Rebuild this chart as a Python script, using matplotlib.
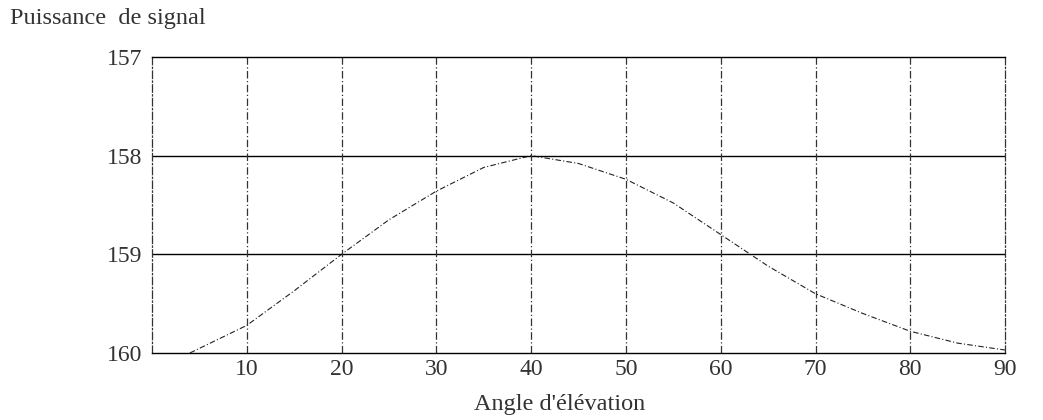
import numpy as np
import matplotlib.pyplot as plt

plt.switch_backend("Agg")
plt.rcParams["font.family"] = ["Liberation Serif", "DejaVu Serif"]

# values
angle = [4, 10, 15, 20, 25, 30, 35, 40, 45, 50, 55, 60, 65, 70, 75, 80, 85, 90]
power = [160.0, 159.72, 159.37, 159.0, 158.65, 158.36, 158.12, 158.0, 158.08,
         158.24, 158.48, 158.8, 159.12, 159.4, 159.6, 159.78, 159.9, 159.97]
xticks = [10, 20, 30, 40, 50, 60, 70, 80, 90]
yticks = [157, 158, 159, 160]

fig = plt.figure(figsize=(10.43, 4.2), dpi=100)
ax = fig.add_axes([0.1457, 0.1595, 0.818, 0.705])

ax.plot(angle, power, color="#222222", lw=0.8, ls=(0, (5, 2, 1, 2)))

ax.set_xlim(0, 90)
ax.set_ylim(160, 157)

for y in (158, 159):
    ax.axhline(y, color="black", lw=1.0)
for x in xticks[:-1]:
    ax.axvline(x, color="#333333", lw=0.9, ls=(0, (6, 2, 1, 2)))

for s in ("top", "bottom"):
    ax.spines[s].set_linewidth(1.0)
for s in ("left", "right"):
    ax.spines[s].set_linestyle((0, (6, 2, 1, 2)))
    ax.spines[s].set_linewidth(0.9)
    ax.spines[s].set_color("#333333")

ax.set_xticks(xticks)
ax.set_yticks(yticks)
ax.tick_params(length=0, labelsize=17, labelcolor="#333333")
ax.tick_params(axis="x", pad=4)
ax.tick_params(axis="y", pad=7)

fig.text(0.537, 0.036, "Angle d'élévation", fontsize=17.5, color="#333333",
         ha="center", va="center")
fig.text(0.01, 0.955, "Puissance  de signal", fontsize=17.5, color="#333333",
         ha="left", va="center")

fig.savefig("out.png", dpi=100)
